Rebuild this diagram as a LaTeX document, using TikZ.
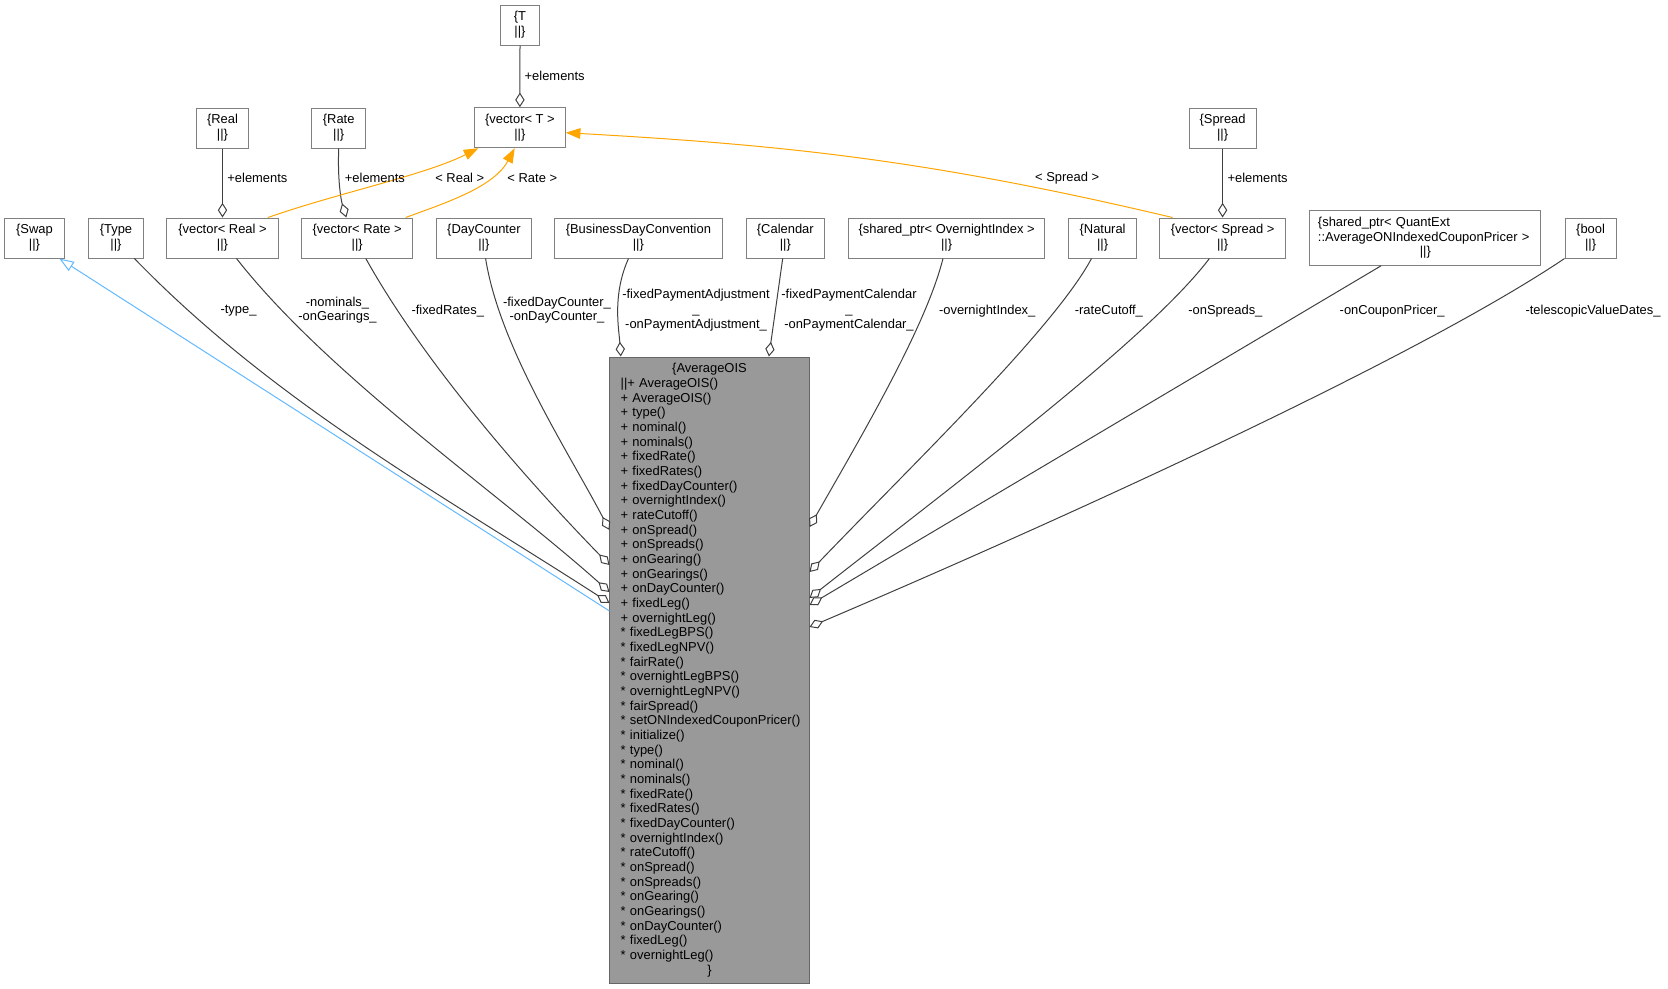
\documentclass[tikz,border=0pt]{standalone}
\usepackage{fontspec}
\setmainfont{Liberation Sans}
\usetikzlibrary{arrows.meta}
\definecolor{boxgray}{HTML}{808080}
\definecolor{maingray}{HTML}{999999}
\definecolor{mainline}{HTML}{666666}
\definecolor{edgegray}{HTML}{404040}
\definecolor{inhblue}{HTML}{63B8FF}
\definecolor{tplorange}{HTML}{FFA500}

\begin{document}
\begin{tikzpicture}[x=0.75pt, y=-0.75pt,
	every node/.style={font=\fontsize{9.7pt}{11pt}\selectfont, inner sep=0pt},
	cls/.style={draw=boxgray, line width=0.75pt, fill=white, align=center, minimum height=30pt, minimum width=#1},
	lbl/.style={align=center},
	agg/.style={draw=edgegray, line width=0.75pt, -{Diamond[open, length=11pt, width=7pt]}},
	inh/.style={draw=inhblue, line width=0.75pt, -{Triangle[open, length=11pt, width=8pt]}},
	tpl/.style={draw=tplorange, line width=0.75pt, -{Triangle[length=11pt, width=8pt, fill=tplorange]}}]
			\useasboundingbox (0,0) rectangle (1668,989);
			\node[cls=29.3pt] (t) at (520,25) {\{T\\||\}};
			\node[cls=68pt] (vect) at (519.9,127.7) {\{vector< T >\\||\}};
			\node[cls=39.3pt] (real) at (222.5,128) {\{Real\\||\}};
			\node[cls=40.1pt] (rate) at (338.7,128) {\{Rate\\||\}};
			\node[cls=50.3pt] (spread) at (1222.6,128) {\{Spread\\||\}};
			\node[cls=44.8pt] (swap) at (34.5,238) {\{Swap\\||\}};
			\node[cls=41.3pt] (type) at (116,238) {\{Type\\||\}};
			\node[cls=83.6pt] (vreal) at (222.5,238) {\{vector< Real >\\||\}};
			\node[cls=83pt] (vrate) at (357.2,238) {\{vector< Rate >\\||\}};
			\node[cls=71.4pt] (daycounter) at (483.9,238) {\{DayCounter\\||\}};
			\node[cls=125.7pt] (bdc) at (638.4,238) {\{BusinessDayConvention\\||\}};
			\node[cls=58.6pt] (calendar) at (785.3,238) {\{Calendar\\||\}};
			\node[cls=147.2pt] (overnight) at (946.6,238) {\{shared\_ptr< OvernightIndex >\\||\}};
			\node[cls=50.6pt] (natural) at (1102.6,238) {\{Natural\\||\}};
			\node[cls=94.3pt] (vspread) at (1222.6,238) {\{vector< Spread >\\||\}};
			\node[cls=173.3pt, minimum height=41pt, text width=161pt, align=left] (pricer) at (1425.3,238) {\{shared\_ptr< QuantExt\\::AverageONIndexedCouponPricer~>\\\makebox[\linewidth]{||\}}};
			\node[cls=38.3pt] (bool) at (1590.6,238) {\{bool\\||\}};
			\node[draw=mainline, fill=maingray, line width=0.75pt, minimum width=149.3pt, minimum height=469.5pt, text width=133.3pt, inner xsep=8pt, align=left] (ois) at (709.5,670) {\makebox[\linewidth]{\{AverageOIS}\\||+ AverageOIS()\\+ AverageOIS()\\+ type()\\+ nominal()\\+ nominals()\\+ fixedRate()\\+ fixedRates()\\+ fixedDayCounter()\\+ overnightIndex()\\+ rateCutoff()\\+ onSpread()\\+ onSpreads()\\+ onGearing()\\+ onGearings()\\+ onDayCounter()\\+ fixedLeg()\\+ overnightLeg()\\{}* fixedLegBPS()\\{}* fixedLegNPV()\\{}* fairRate()\\{}* overnightLegBPS()\\{}* overnightLegNPV()\\{}* fairSpread()\\\mbox{* setONIndexedCouponPricer()}\\{}* initialize()\\{}* type()\\{}* nominal()\\{}* nominals()\\{}* fixedRate()\\{}* fixedRates()\\{}* fixedDayCounter()\\{}* overnightIndex()\\{}* rateCutoff()\\{}* onSpread()\\{}* onSpreads()\\{}* onGearing()\\{}* onGearings()\\{}* onDayCounter()\\{}* fixedLeg()\\{}* overnightLeg()\\\makebox[\linewidth]{\}}};

			\draw[agg] (t.south) -- (vect.north);
			\draw[agg] (real.south) -- (vreal.north);
			\draw[agg] (rate.south) .. controls (337.5,180) and (341,200) .. (vrate.north -| 346.3,0);
			\draw[agg] (spread.south) -- (vspread.north);
			\draw[tpl] (vreal.north -| 267.9,0) .. controls (338,193) and (425,175) .. (vect.south -| 478.4,0);
			\draw[tpl] (vrate.north -| 405.7,0) .. controls (443,203.7) and (493.6,187.7) .. (vect.south -| 514.7,0);
			\draw[tpl] (vspread.north -| 1172.5,0) .. controls (929.5,160) and (785,145) .. (vect.east |- 0,132.7);

			\draw[inh] (ois.west |- 0,611) -- (swap.south -| 59.3,0);
			\draw[agg] (type.south -| 134.4,0) .. controls (273.4,402) and (442,495) .. (ois.west |- 0,603);
			\draw[agg] (vreal.south -| 236.5,0) .. controls (328.8,376.2) and (497.8,492.4) .. (ois.west |- 0,592);
			\draw[agg] (vrate.south -| 365.8,0) .. controls (424,363) and (526,479.3) .. (ois.west |- 0,565);
			\draw[agg] (daycounter.south -| 485.6,0) .. controls (499.6,347) and (567.7,450.5) .. (ois.west |- 0,530);
			\draw[agg] (bdc.south -| 628.5,0) .. controls (612,295) and (619,330) .. (ois.north -| 620.8,0);
			\draw[agg] (calendar.south -| 782.7,0) -- (ois.north -| 768.9,0);
			\draw[agg] (overnight.south -| 943,0) .. controls (926,326) and (864,431.7) .. (ois.east |- 0,527);
			\draw[agg] (natural.south -| 1091.5,0) .. controls (1054,328.6) and (913,464) .. (ois.east |- 0,572);
			\draw[agg] (vspread.south -| 1209.4,0) .. controls (1149.2,337.9) and (966.6,474.9) .. (ois.east |- 0,598);
			\draw[agg] (pricer.south -| 1381,0) -- (ois.east |- 0,605);
			\draw[agg] (bool.south west) .. controls (1399,369.8) and (993,549) .. (ois.east |- 0,627);

			\node (lt) at (554.7,75.7) {+elements};
			\node (lreal) at (257.4,178.3) {+elements};
			\node (lrate) at (374.9,178.3) {+elements};
			\node (lspread) at (1257.6,178.3) {+elements};
			\node (treal) at (459.8,178.3) {< Real >};
			\node (trate) at (532.3,178.3) {< Rate >};
			\node (tspread) at (1067.2,178.3) {< Spread >};
			\node (ltype) at (238.5,311) {-type\_};
			\node[lbl] (lnominals) at (337.5,310.2) {-nominals\_\\-onGearings\_};
			\node (lfixedrates) at (447.8,310.7) {-fixedRates\_};
			\node[lbl] (ldaycounter) at (557,310.2) {-fixedDayCounter\_\\-onDayCounter\_};
			\node[lbl] (ladjust) at (696,310.2) {-fixedPaymentAdjustment\\\_\\-onPaymentAdjustment\_};
			\node[lbl] (lcalendar) at (849,310.2) {-fixedPaymentCalendar\\\_\\-onPaymentCalendar\_};
			\node (lovernight) at (987.2,310.7) {-overnightIndex\_};
			\node (lcutoff) at (1108.9,310.7) {-rateCutoff\_};
			\node (lspreads) at (1225.4,310.7) {-onSpreads\_};
			\node (lpricer) at (1392.2,310.7) {-onCouponPricer\_};
			\node (ltele) at (1593,310.7) {-telescopicValueDates\_};
\end{tikzpicture}
\end{document}
